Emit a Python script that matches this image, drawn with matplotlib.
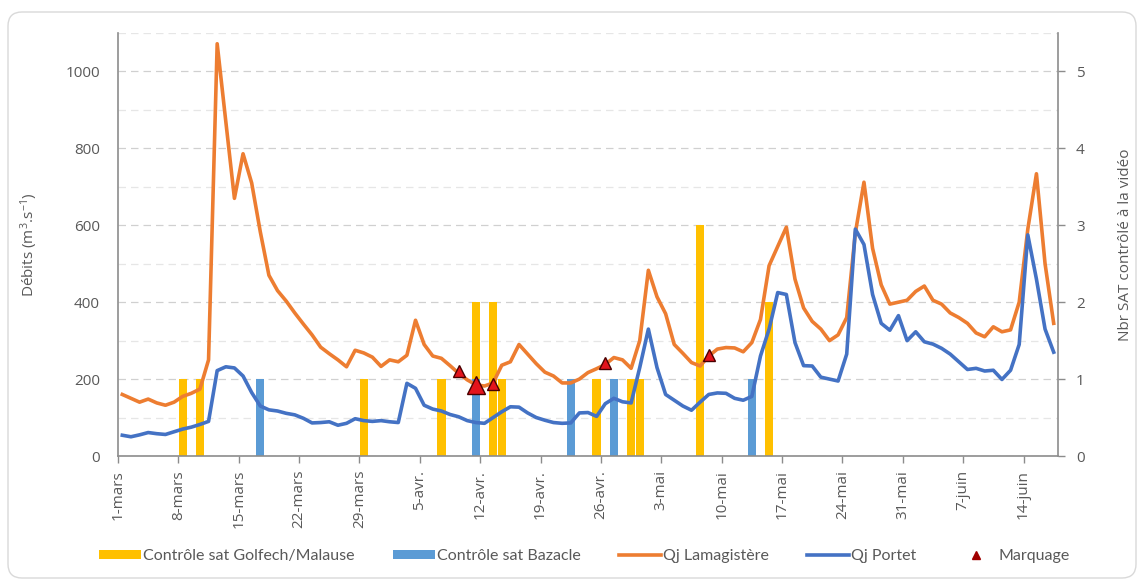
import numpy as np
import matplotlib
matplotlib.use("Agg")
import matplotlib.pyplot as plt
from matplotlib.patches import FancyBboxPatch, Patch
from matplotlib.lines import Line2D
from matplotlib.ticker import MultipleLocator

# Daily discharge (m3/s), 1 March -> 17 June
qj_lamagistere = [
    160, 150, 140, 148, 138, 132, 140, 155, 163, 174,
    250, 1072, 870, 670, 786, 710, 583, 470, 430, 403,
    372, 343, 315, 283, 266, 250, 232, 275, 268, 257,
    233, 250, 245, 262, 353, 290, 260, 254, 235, 215,
    198, 185, 182, 190, 236, 245, 290, 265, 240, 218,
    208, 190, 190, 200, 217, 227, 238, 256, 250, 228,
    300, 483, 414, 370, 290, 267, 243, 234, 260, 278,
    282, 281, 271, 295, 355, 495, 545, 595, 460, 385,
    350, 330, 300, 315, 360, 580, 712, 540, 445, 395,
    400, 405, 428, 442, 405, 395, 372, 360, 345, 320,
    310, 336, 323, 328, 400, 590, 734, 500, 345,
]
qj_portet = [
    54, 50, 55, 61, 58, 56, 63, 70, 75, 82,
    90, 222, 232, 229, 208, 165, 130, 120, 117, 111,
    107, 98, 86, 87, 89, 80, 85, 97, 92, 90,
    92, 89, 87, 189, 176, 132, 122, 117, 108, 102,
    92, 87, 85, 100, 115, 128, 127, 112, 100, 93,
    87, 85, 86, 112, 113, 103, 136, 150, 141, 138,
    230, 330, 230, 160, 145, 130, 119, 140, 160, 164,
    163, 150, 145, 155, 260, 330, 425, 420, 295, 235,
    234, 205, 200, 195, 265, 590, 550, 420, 345, 327,
    365, 300, 323, 297, 291, 280, 265, 245, 225, 228,
    221, 223, 199, 223, 290, 575, 460, 330, 270,
]

# Number of SAT checked on video (day index from 1 March)
golfech_days = [7, 9, 28, 37, 41, 43, 44, 55, 59, 60, 67, 75]
golfech_count = [1, 1, 1, 1, 2, 2, 1, 1, 1, 1, 3, 2]
bazacle_days = [16, 41, 52, 57, 73]
bazacle_count = [1, 1, 1, 1, 1]

# Tagging events
marquage_days = [39, 41, 43, 56, 68]
marquage_level = [1.10, 0.92, 0.94, 1.21, 1.31]

tick_days = [0, 7, 14, 21, 28, 35, 42, 49, 56, 63, 70, 77, 84, 91, 98, 105]
tick_labels = ["1-mars", "8-mars", "15-mars", "22-mars", "29-mars", "5-avr.",
               "12-avr.", "19-avr.", "26-avr.", "3-mai", "10-mai", "17-mai",
               "24-mai", "31-mai", "7-juin", "14-juin"]

C_GOLFECH = "#FFC000"
C_BAZACLE = "#5B9BD5"
C_LAMA = "#ED7D31"
C_PORTET = "#4472C4"
C_TEXT = "#595959"
C_AXIS = "#8C8C8C"

plt.rcParams["font.family"] = ["Open Sans", "DejaVu Sans"]
plt.rcParams["mathtext.fontset"] = "custom"
plt.rcParams["mathtext.rm"] = "Open Sans"
plt.rcParams["mathtext.it"] = "Open Sans"

fig = plt.figure(figsize=(11.42, 5.84), dpi=100)
fig.patch.set_facecolor("white")

# rounded chart-area frame
frame = FancyBboxPatch((8, 6), 1128, 566, boxstyle="round,pad=0,rounding_size=14",
                       transform=None, facecolor="none", edgecolor="#D9D9D9", lw=1.0)
fig.add_artist(frame)

ax = fig.add_axes([118 / 1142, 128 / 584, 940 / 1142, 423 / 584])
ax_bar = ax.twinx()
ax_mark = ax.twinx()
ax_bar.set_zorder(0)
ax.set_zorder(1)
ax_mark.set_zorder(2)
ax.patch.set_visible(False)

n = len(qj_lamagistere)
x = np.arange(n) + 0.5

# columns (secondary axis)
gd = np.array(golfech_days) + 0.5
bd = np.array(bazacle_days) + 0.5
ax_bar.bar(gd, golfech_count, width=0.96, color=C_GOLFECH, zorder=2)
ax_bar.bar(bd, bazacle_count, width=0.96, color=C_BAZACLE, zorder=3)
ax_bar.set_ylim(0, 5.5)
ax_bar.yaxis.set_major_locator(MultipleLocator(1))
ax_bar.yaxis.set_minor_locator(MultipleLocator(0.5))
ax_bar.set_axisbelow(True)
ax_bar.grid(True, which="major", axis="y", color="#D0D0D0", lw=0.9, dashes=(6, 4))
ax_bar.grid(True, which="minor", axis="y", color="#E6E6E6", lw=0.9, dashes=(6, 4))
ax_bar.tick_params(axis="y", which="major", direction="out", length=5, width=1,
                   color=C_AXIS, labelcolor=C_TEXT, labelsize=11, pad=8)
ax_bar.tick_params(axis="y", which="minor", length=0)
ax_bar.set_ylabel("Nbr SAT contrôlé à la vidéo", color=C_TEXT, fontsize=11)
ax_bar.yaxis.set_label_coords(1.064, 0.5)
for s in ["top", "left", "bottom"]:
    ax_bar.spines[s].set_visible(False)
ax_bar.spines["right"].set_color(C_AXIS)
ax_bar.spines["right"].set_linewidth(1.2)

# discharge lines (primary axis)
ax.plot(x, qj_lamagistere, color=C_LAMA, lw=2.6, solid_joinstyle="round")
ax.plot(x, qj_portet, color=C_PORTET, lw=2.6, solid_joinstyle="round")
ax.set_xlim(0, n)
ax.set_ylim(0, 1100)
ax.set_yticks(range(0, 1001, 200))
ax.set_xticks(tick_days)
ax.set_xticklabels(tick_labels, rotation=90, ha="center", va="top")
ax.tick_params(axis="y", length=0, labelcolor=C_TEXT, labelsize=11, pad=13)
ax.tick_params(axis="x", direction="out", length=5, width=1, color=C_AXIS,
               labelcolor=C_TEXT, labelsize=11, pad=5)
ax.set_ylabel(r"Débits (m$^{3}$.s$^{-1}$)", color=C_TEXT, fontsize=11)
ax.yaxis.set_label_coords(-0.083, 0.5)
for s in ["top", "right"]:
    ax.spines[s].set_visible(False)
for s in ["left", "bottom"]:
    ax.spines[s].set_color(C_AXIS)
    ax.spines[s].set_linewidth(1.2)

# tagging markers (secondary scale)
md = np.array(marquage_days) + 0.5
msize = [9, 13, 9, 9, 9]
for d, v, s in zip(md, marquage_level, msize):
    ax_mark.plot(d, v, marker="^", ms=s, mfc="#E3141C", mec="#4A0000", mew=1.0, ls="none")
ax_mark.set_ylim(0, 5.5)
ax_mark.axis("off")

handles = [
    Patch(facecolor=C_GOLFECH, edgecolor="none"),
    Patch(facecolor=C_BAZACLE, edgecolor="none"),
    Line2D([], [], color=C_LAMA, lw=2.6),
    Line2D([], [], color=C_PORTET, lw=2.6),
    Line2D([], [], color="#A00000", marker="^", ms=6, ls="none"),
]
labels = ["Contrôle sat Golfech/Malause", "Contrôle sat Bazacle", "Qj Lamagistère",
          "Qj Portet", "Marquage"]
fig.legend(handles, labels, loc="center", bbox_to_anchor=(0.512, 0.048), ncol=5,
           frameon=False, handlelength=2.6, handleheight=0.55, handletextpad=0.15,
           columnspacing=2.4, prop={"family": "Lato", "size": 11.5},
           labelcolor=C_TEXT)

fig.savefig("out.png", dpi=100, facecolor="white")
